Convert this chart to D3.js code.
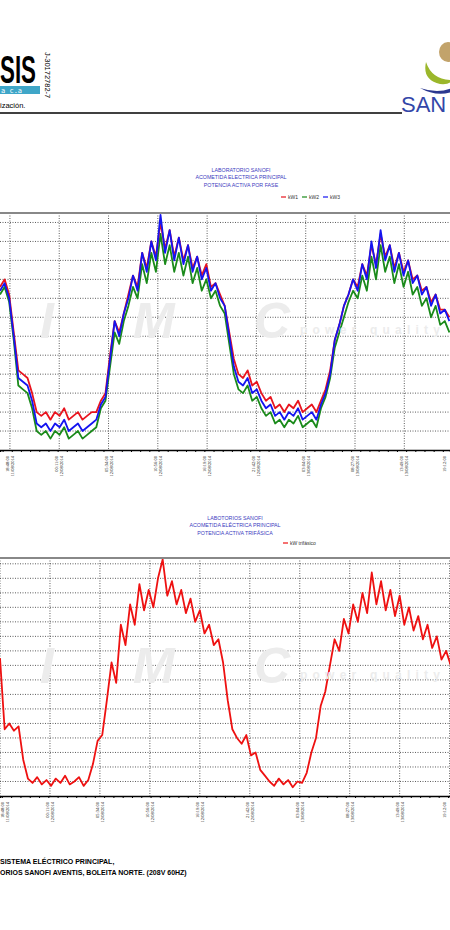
<!DOCTYPE html>
<html>
<head>
<meta charset="utf-8">
<script src="https://cdn.jsdelivr.net/npm/d3@7"></script>
<style>
  body{ margin: 0; background: #fff; }
  svg{ font-family: Arial, "Liberation Sans", sans-serif; }
  .grid line{ stroke: #333; stroke-width: 0.8; stroke-dasharray: 1,1.5; }
</style>
</head>
<body>
<script>

// kW por fase, cada 30 min desde 11/08/2014 17:43
var kW3 = [42,44,40,30,19,18,17,13,7, 6,7,5,7,6,8,5,6,7,5,6,7, 8,12,14,24,34,30,36,40,46,42,52,47,55,50,62,52,58,50,56,49,54,47,51,45,48,42,44,40,38,30,22,18,17,19,15,16,13,11,12, 9,10,8,10,9,11,8,9,10,8, 12,15,20,29,33,38,41,45,42,49,45,55,48,58,50,54,47,52,46,50,44,46,41,43,38,41,36,37,34]
var kW1 = [43,45,41,31,21,20,19,15,10, 9,10,8,10,9,11,8,9,10,8,9,10, 10,13,15,25,34,31,36,41,46,43,52,48,55,51,60,53,58,51,56,50,54,48,51,46,49,43,44,41,38,31,24,20,19,21,17,18,15,13,14, 11,12,10,12,11,13,10,11,12,10, 13,16,21,29,33,38,41,45,43,49,46,54,49,57,51,54,48,52,47,50,45,46,42,43,39,41,37,37,35]
var kW2 = [41,43,39,29,17,16,15,11,5, 4,5,3,5,4,6,3,4,5,3,4,5, 6,11,13,22,31,28,34,38,43,40,49,44,52,47,57,49,54,47,52,46,51,44,48,42,45,40,42,38,36,28,20,16,15,17,13,14,11,9,10, 7,8,6,8,7,9,6,7,8,6, 11,14,19,27,31,35,39,42,40,46,42,51,45,54,47,51,44,49,43,47,41,43,38,40,35,38,33,34,31]

// kW trifásico, cada 30 min desde 11/08/2014 18:48
var kWtri = [95,46,50,45,48,25,12, 9,13,8,11,7,12,9,14,8,10,13,7,11, 22,38,42,66,92,78,118,104,132,118,146,128,142,130,150,163,138,148,132,142,126,136,120,128,112,118,104,108,92,66,46,40,36,42,28,30,18,14, 10,7,12,8,11,6,10,9, 16,30,40,62,72,90,108,100,122,112,132,120,140,126,154,132,148,128,142,124,138,118,130,114,124,108,118,102,110,94,100,90,100]

var tickLabels = [
  ['18:48:00','11/08/2014'], ['00:11:00','12/08/2014'], ['05:34:00','12/08/2014'],
  ['10:56:00','12/08/2014'], ['16:19:00','12/08/2014'], ['21:42:00','12/08/2014'],
  ['03:04:00','13/08/2014'], ['08:27:00','13/08/2014'], ['13:49:00','13/08/2014'],
  ['19:12:00','']
]

var W = 450, H = 930
var svg = d3.select('body').append('svg').attr('width', W).attr('height', H)
var parse = d3.timeParse('%d/%m/%Y %H:%M:%S')
var tickTimes = tickLabels.map(function(d, i){
  return new Date(parse('11/08/2014 18:48:00').getTime() + i * 322.5 * 60000)
})

// ---- header ----
var hd = svg.append('g')
hd.append('text').attr('x', 0).attr('y', 83).attr('font-size', 38)
  .attr('textLength', 36).attr('lengthAdjust', 'spacingAndGlyphs')
  .attr('font-weight', 'bold').text('SIS')
hd.append('rect').attr('x', 0).attr('y', 86).attr('width', 40).attr('height', 8).attr('fill', '#3fa6c8')
hd.append('text').attr('x', 1).attr('y', 92.5).attr('font-size', 7).attr('fill', '#fff')
  .attr('font-family', 'DejaVu Sans Mono, monospace').text('a c.a')
hd.append('text').attr('x', 0).attr('y', 108).attr('font-size', 7.5).text('ización.')
hd.append('text').attr('transform', 'translate(45,52) rotate(90)').attr('font-size', 7.5).text('J-30172782-7')
hd.append('line').attr('x1', 0).attr('x2', 402).attr('y1', 113).attr('y2', 113).attr('stroke', '#000').attr('stroke-width', 1.5)
hd.append('ellipse').attr('cx', 448).attr('cy', 52).attr('rx', 9).attr('ry', 10).attr('fill', '#c2a36b')
hd.append('path').attr('d', 'M426,62 Q422,80 440,84 Q450,85 452,80 Q432,80 426,62Z').attr('fill', '#9bb72b')
hd.append('path').attr('d', 'M420,88 Q438,94 452,88 L452,92 Q436,97 420,88Z').attr('fill', '#2b3890')
hd.append('text').attr('x', 401).attr('y', 112).attr('font-size', 22).attr('fill', '#3346a8').text('SAN')

// ---- watermark ----
function watermark(y){
  svg.append('text').attr('x', 40).attr('y', y).attr('font-size', 50).attr('font-weight', 'bold')
    .attr('font-style', 'italic').attr('fill', '#ececec').attr('textLength', 250).text('IMC')
  svg.append('text').attr('x', 300).attr('y', y - 4).attr('font-size', 12).attr('font-weight', 'bold')
    .attr('fill', '#ececec').attr('textLength', 140).text('power quality')
}

// ---- chart builder ----
function chart(o){
  var x = d3.scaleTime().domain(o.xdom).range([0, W])
  var y = d3.scaleLinear().domain(o.ydom).range([o.bottom, o.top])
  var g = svg.append('g')

  watermark(o.top + 125)

  g.append('g').attr('class', 'grid').selectAll('line').data(d3.range(o.gstep, o.ydom[1], o.gstep))
    .join('line').attr('x1', 0).attr('x2', W).attr('y1', y).attr('y2', y)
  g.append('g').attr('class', 'grid').selectAll('line').data(tickTimes)
    .join('line').attr('x1', x).attr('x2', x).attr('y1', o.top).attr('y2', o.bottom)

  var t0 = o.xdom[0].getTime()
  o.series.forEach(function(s){
    var line = d3.line().x(function(d, i){ return x(new Date(t0 + i * 30 * 60000)) }).y(y)
    g.append('path').datum(s.data).attr('d', line).attr('fill', 'none')
      .attr('stroke', s.color).attr('stroke-width', 1.8).attr('stroke-linejoin', 'round')
  })

  g.append('line').attr('x1', 0).attr('x2', W).attr('y1', o.top).attr('y2', o.top)
    .attr('stroke', '#888').attr('stroke-width', 2)
  var ax = g.append('g').attr('transform', 'translate(0,' + o.bottom + ')')
    .call(d3.axisBottom(x).tickValues(x.ticks(d3.timeHour.every(1))).tickSize(2).tickFormat(''))
  ax.select('.domain').attr('stroke-width', 1.5)

  var lab = g.selectAll('.tl').data(tickLabels).join('g')
    .attr('transform', function(d, i){
      var px = Math.max(5, Math.min(x(tickTimes[i]), 447))
      return 'translate(' + px + ',' + (o.bottom + 5) + ') rotate(-90)'
    })
  lab.append('text').attr('text-anchor', 'end').attr('x', -1).attr('y', -1).attr('font-size', 4.5)
    .attr('font-family', 'Liberation Serif, serif').text(function(d){ return d[0] })
  lab.append('text').attr('text-anchor', 'end').attr('x', -1).attr('y', 4).attr('font-size', 4.5)
    .attr('font-family', 'Liberation Serif, serif').text(function(d){ return d[1] })

  o.titles.forEach(function(t, i){
    g.append('text').attr('x', o.tx).attr('y', o.ty + i * 7.3).attr('text-anchor', 'middle')
      .attr('font-size', 5.3).attr('fill', '#3b3bc0').text(t)
  })
  var lx = o.lx
  o.series.slice().sort(function(a, b){ return a.order - b.order }).forEach(function(s){
    g.append('line').attr('x1', lx).attr('x2', lx + 5).attr('y1', o.ly).attr('y2', o.ly)
      .attr('stroke', s.color).attr('stroke-width', 1.2)
    g.append('text').attr('x', lx + 7).attr('y', o.ly + 2).attr('font-size', 5).attr('fill', '#333').text(s.name)
    lx += s.name.length * 3 + 12
  })
}

chart({
  xdom: [parse('11/08/2014 17:43:00'), parse('13/08/2014 18:47:00')],
  ydom: [0, 62.5], gstep: 5, top: 213, bottom: 450,
  titles: ['LABORATORIO SANOFI', 'ACOMETIDA ELECTRICA PRINCIPAL', 'POTENCIA ACTIVA  POR FASE'],
  tx: 241, ty: 172, lx: 281, ly: 197,
  series: [
    {name: 'kW2', data: kW2, color: '#1a8a1a', order: 2},
    {name: 'kW1', data: kW1, color: '#e8141e', order: 1},
    {name: 'kW3', data: kW3, color: '#1414f0', order: 3}
  ]
})

chart({
  xdom: [parse('11/08/2014 18:48:00'), parse('13/08/2014 19:13:00')],
  ydom: [0, 164], gstep: 10, top: 558, bottom: 796,
  titles: ['LABOTORIOS SANOFI', 'ACOMETIDA ELÉCTRICA PRINCIPAL', 'POTENCIA ACTIVA TRIFÁSICA'],
  tx: 235, ty: 520, lx: 283, ly: 543,
  series: [
    {name: 'kW trifásico', data: kWtri, color: '#ee1111', order: 1}
  ]
})

// ---- footer ----
svg.append('text').attr('x', 0).attr('y', 864).attr('font-size', 7).attr('font-weight', 'bold')
  .text('SISTEMA ELÉCTRICO PRINCIPAL,')
svg.append('text').attr('x', 0).attr('y', 875).attr('font-size', 7).attr('font-weight', 'bold')
  .text('ORIOS SANOFI AVENTIS, BOLEITA NORTE.  (208V  60HZ)')

</script>
</body>
</html>
